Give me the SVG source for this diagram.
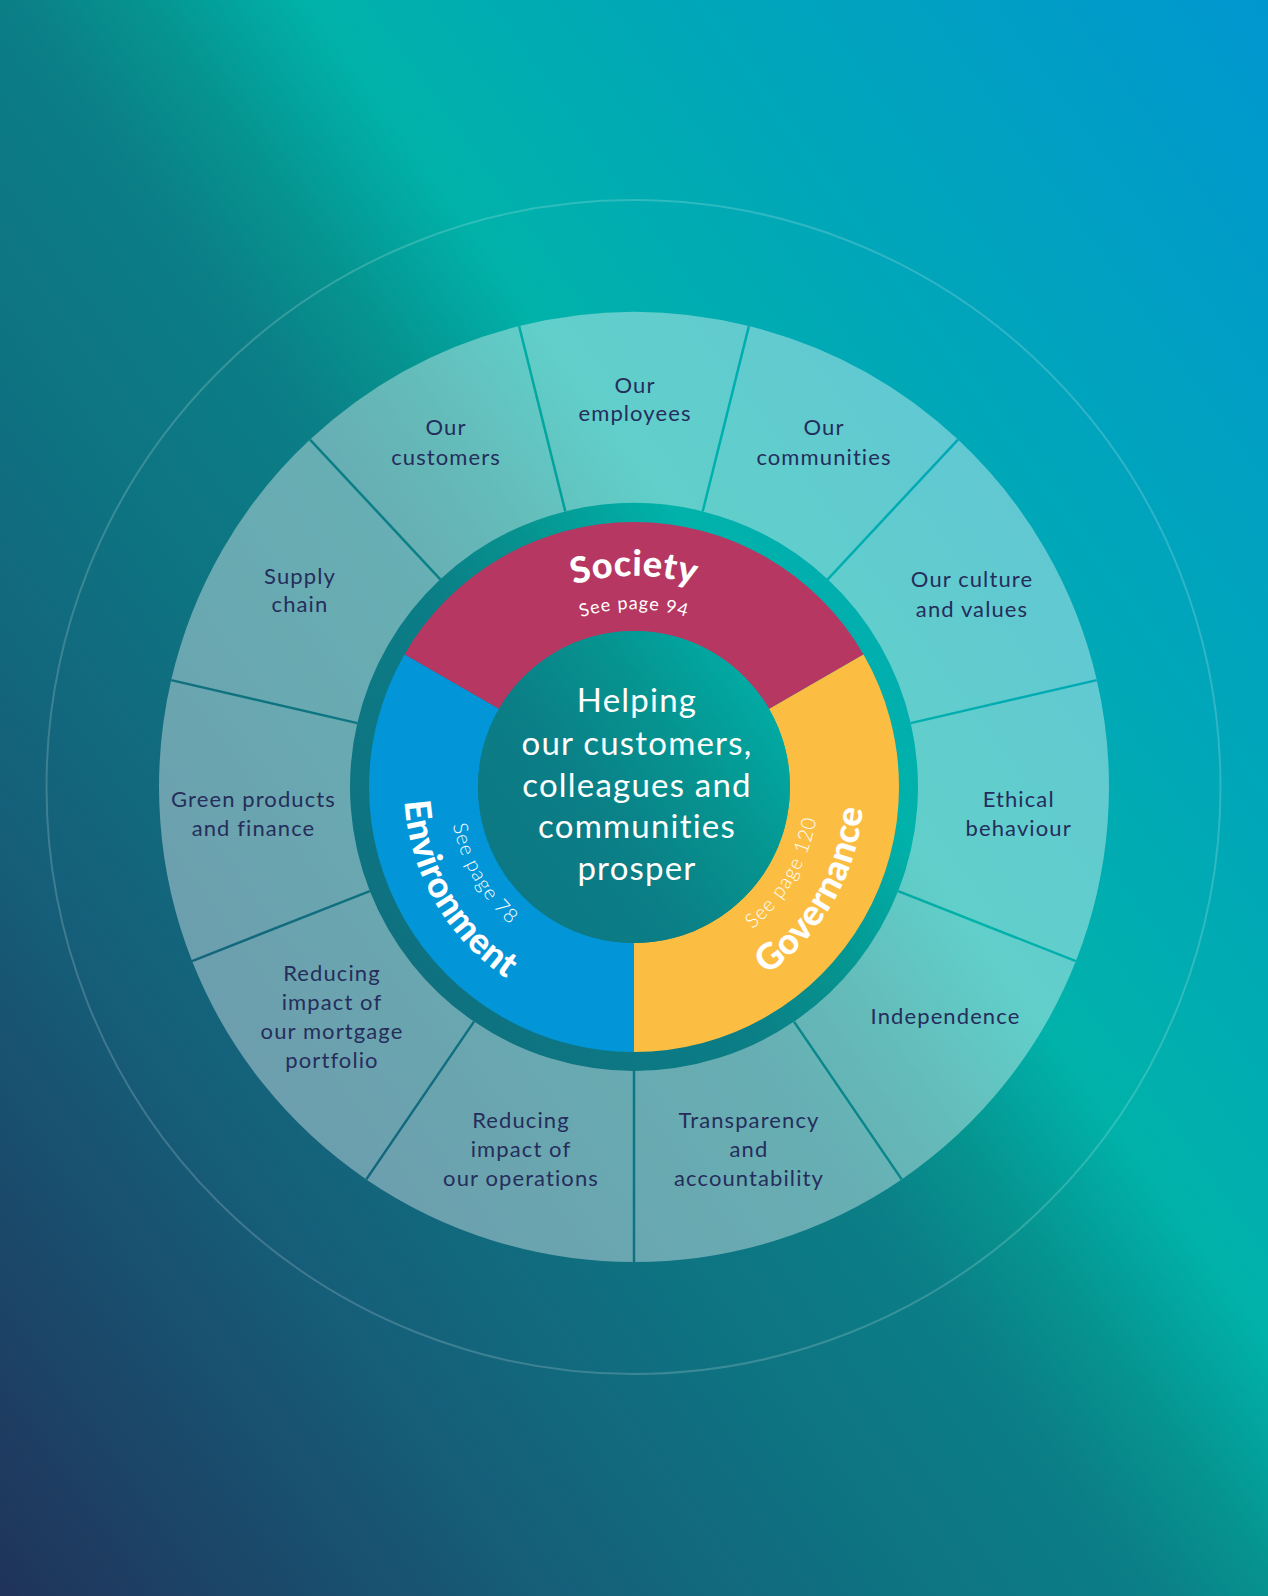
<svg xmlns="http://www.w3.org/2000/svg" xmlns:xlink="http://www.w3.org/1999/xlink" width="1268" height="1596" viewBox="0 0 1268 1596">
<defs>
<linearGradient id="bg" gradientUnits="userSpaceOnUse" x1="0" y1="1596" x2="1598.7" y2="449.1">
<stop offset="0" stop-color="#20335a"/>
<stop offset="0.237" stop-color="#15607a"/>
<stop offset="0.373" stop-color="#0e7381"/>
<stop offset="0.475" stop-color="#0b7e86"/>
<stop offset="0.53" stop-color="#06938f"/>
<stop offset="0.6" stop-color="#00b2aa"/>
<stop offset="0.76" stop-color="#00a6b9"/>
<stop offset="1" stop-color="#0097d0"/>
</linearGradient>
<path id="pSoc" d="M435.7,714.8 A211,211 0 0 1 832.3,714.8"/>
<path id="pSoc2" d="M466.8,726.1 A178,178 0 0 1 801.2,726.1"/>
<path id="pEnv" d="M417.8,708.3 A230,230 0 0 0 594.1,1013.5"/>
<path id="pEnv2" d="M460.1,723.7 A185,185 0 0 0 601.9,969.2"/>
<path id="pGov" d="M673.9,1013.5 A230,230 0 0 0 850.2,708.3"/>
<path id="pGov2" d="M666.1,969.2 A185,185 0 0 0 807.9,723.7"/>
<style>
.seg{fill:#ffffff;fill-opacity:0.38}
.div{stroke:url(#bg);stroke-width:2.5;fill:none}
.lbl{font-family:"Lato","Liberation Sans",sans-serif;font-size:22px;fill:#252d5b;text-anchor:middle;letter-spacing:1.1px}
.ctr{font-family:"Lato","Liberation Sans",sans-serif;font-size:33px;fill:#ffffff;text-anchor:middle;letter-spacing:1.2px}
.big{font-family:"Lato","Liberation Sans",sans-serif;font-size:36px;font-weight:900;fill:#ffffff;letter-spacing:0.5px}
.small{font-family:"Lato","Liberation Sans",sans-serif;font-size:18px;font-weight:400;fill:#ffffff;letter-spacing:1px}
.small2{font-family:"Lato","Liberation Sans",sans-serif;font-size:20px;font-weight:300;fill:#ffffff;letter-spacing:1px}
</style>
</defs>
<rect x="0" y="0" width="1268" height="1596" fill="url(#bg)"/>
<circle cx="633.5" cy="787" r="587" fill="none" stroke="#ffffff" stroke-opacity="0.18" stroke-width="2"/>

<g id="segments">
<g id="seg-operations"><path class="seg" d="M634,1262 A475,475 0 0 1 366.3,1179.4 L474,1021.6 A284,284 0 0 0 634,1071 Z"/>
<text class="lbl" x="521" y="1127.6">Reducing</text><text class="lbl" x="521" y="1157">impact of</text><text class="lbl" x="521" y="1185.6">our operations</text></g>
<g id="seg-mortgage"><path class="seg" d="M366.3,1179.4 A475,475 0 0 1 192.1,961.1 L369.8,891.1 A284,284 0 0 0 474,1021.6 Z"/>
<text class="lbl" x="332" y="981">Reducing</text><text class="lbl" x="332" y="1009.5">impact of</text><text class="lbl" x="332" y="1039">our mortgage</text><text class="lbl" x="332" y="1067.6">portfolio</text></g>
<g id="seg-green"><path class="seg" d="M192.1,961.1 A475,475 0 0 1 171.2,680.1 L357.3,723.1 A284,284 0 0 0 369.8,891.1 Z"/>
<text class="lbl" x="253.5" y="807">Green products</text><text class="lbl" x="253.5" y="835.5">and finance</text></g>
<g id="seg-supply"><path class="seg" d="M171.2,680.1 A475,475 0 0 1 310,439.6 L440.3,579.3 A284,284 0 0 0 357.3,723.1 Z"/>
<text class="lbl" x="300" y="584.2">Supply</text><text class="lbl" x="300" y="611.6">chain</text></g>
<g id="seg-customers"><path class="seg" d="M310,439.6 A475,475 0 0 1 519.1,326.1 L565.3,511.4 A284,284 0 0 0 440.3,579.3 Z"/>
<text class="lbl" x="446" y="435.4">Our</text><text class="lbl" x="446" y="465">customers</text></g>
<g id="seg-employees"><path class="seg" d="M519.1,326.1 A475,475 0 0 1 748.9,326.1 L702.7,511.4 A284,284 0 0 0 565.3,511.4 Z"/>
<text class="lbl" x="635" y="392.8">Our</text><text class="lbl" x="635" y="421.3">employees</text></g>
<g id="seg-communities"><path class="seg" d="M748.9,326.1 A475,475 0 0 1 958,439.6 L827.7,579.3 A284,284 0 0 0 702.7,511.4 Z"/>
<text class="lbl" x="824" y="435.4">Our</text><text class="lbl" x="824" y="465">communities</text></g>
<g id="seg-culture"><path class="seg" d="M958,439.6 A475,475 0 0 1 1096.8,680.1 L910.7,723.1 A284,284 0 0 0 827.7,579.3 Z"/>
<text class="lbl" x="972" y="587">Our culture</text><text class="lbl" x="972" y="616.7">and values</text></g>
<g id="seg-ethical"><path class="seg" d="M1096.8,680.1 A475,475 0 0 1 1075.9,961.1 L898.2,891.1 A284,284 0 0 0 910.7,723.1 Z"/>
<text class="lbl" x="1018.7" y="807">Ethical</text><text class="lbl" x="1018.7" y="835.5">behaviour</text></g>
<g id="seg-independence"><path class="seg" d="M1075.9,961.1 A475,475 0 0 1 901.7,1179.4 L794,1021.6 A284,284 0 0 0 898.2,891.1 Z"/>
<text class="lbl" x="945.5" y="1023.8">Independence</text></g>
<g id="seg-transparency"><path class="seg" d="M901.7,1179.4 A475,475 0 0 1 634,1262 L634,1071 A284,284 0 0 0 794,1021.6 Z"/>
<text class="lbl" x="749" y="1127.6">Transparency</text><text class="lbl" x="749" y="1157">and</text><text class="lbl" x="749" y="1185.6">accountability</text></g>
</g>

<g id="connectors">
<line class="div" x1="634" y1="1071" x2="634" y2="1263"/>
<line class="div" x1="474" y1="1021.6" x2="366.3" y2="1179.4"/>
<line class="div" x1="369.8" y1="891.1" x2="192.1" y2="961.1"/>
<line class="div" x1="357.3" y1="723.1" x2="171.2" y2="680.1"/>
<line class="div" x1="440.3" y1="579.3" x2="310" y2="439.6"/>
<line class="div" x1="565.3" y1="511.4" x2="519.1" y2="326.1"/>
<line class="div" x1="702.7" y1="511.4" x2="748.9" y2="326.1"/>
<line class="div" x1="827.7" y1="579.3" x2="958" y2="439.6"/>
<line class="div" x1="910.7" y1="723.1" x2="1096.8" y2="680.1"/>
<line class="div" x1="898.2" y1="891.1" x2="1075.9" y2="961.1"/>
<line class="div" x1="794" y1="1021.6" x2="901.7" y2="1179.4"/>
</g>

<g id="society">
<path d="M404.5,654.5 A265,265 0 0 1 863.5,654.5 L769.1,709 A156,156 0 0 0 498.9,709 Z" fill="#b63762"/>
<text class="big"><textPath href="#pSoc" startOffset="50%" text-anchor="middle">Society</textPath></text>
<text class="small"><textPath href="#pSoc2" startOffset="50%" text-anchor="middle">See page 94</textPath></text>
</g>
<g id="governance">
<path d="M863.5,654.5 A265,265 0 0 1 634,1052 L634,943 A156,156 0 0 0 769.1,709 Z" fill="#fbbe43"/>
<text class="big"><textPath href="#pGov" startOffset="50%" text-anchor="middle">Governance</textPath></text>
<text class="small2"><textPath href="#pGov2" startOffset="50%" text-anchor="middle">See page 120</textPath></text>
</g>
<g id="environment">
<path d="M634,1052 A265,265 0 0 1 404.5,654.5 L498.9,709 A156,156 0 0 0 634,943 Z" fill="#0295d8"/>
<text class="big"><textPath href="#pEnv" startOffset="50%" text-anchor="middle">Environment</textPath></text>
<text class="small2"><textPath href="#pEnv2" startOffset="50%" text-anchor="middle">See page 78</textPath></text>
</g>

<g id="center">
<circle cx="634" cy="787" r="156" fill="url(#bg)"/>
<text class="ctr" x="637" y="712">Helping</text>
<text class="ctr" x="637" y="754.5">our customers,</text>
<text class="ctr" x="637" y="796.5">colleagues and</text>
<text class="ctr" x="637" y="837.5">communities</text>
<text class="ctr" x="637" y="880">prosper</text>
</g>
</svg>
